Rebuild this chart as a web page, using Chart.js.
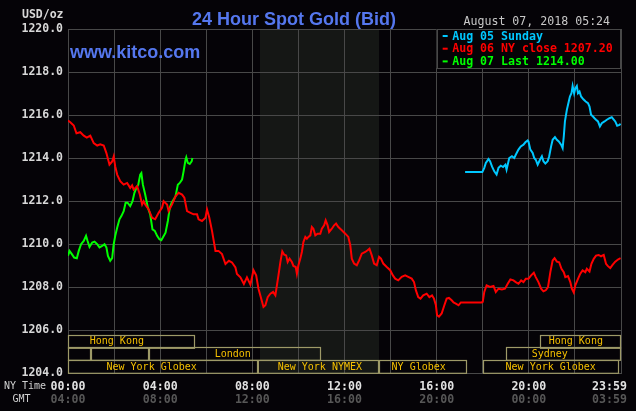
<!DOCTYPE html>
<html><head><meta charset="utf-8">
<script src="https://cdn.jsdelivr.net/npm/chart.js@4.4.0/dist/chart.umd.min.js"></script>
<style>html,body{margin:0;padding:0;background:#050307;}canvas{display:block}</style>
</head><body>
<canvas id="c" width="636" height="411"></canvas>
<script>
// ---- data (minutes after NY midnight, price USD/oz) ----
const redMinutes = [0,6,15,22,32,41,49,58,67,76,84,93,100,108,115,119,123,128,136,145,154,162,167,171,180,187,193,197,201,210,219,227,236,245,249,258,262,271,280,288,297,303,310,319,327,336,340,349,358,362,368,375,384,392,401,410,419,427,436,440,449,458,466,475,483,490,496,503,509,514,520,527,534,540,544,548,553,558,563,568,572,577,583,587,593,596,600,605,609,613,618,622,626,631,635,639,644,650,657,661,667,671,676,680,687,693,698,704,713,722,730,735,739,745,752,758,765,774,780,785,791,797,804,810,815,821,830,839,846,852,860,869,878,886,895,901,906,912,918,925,934,941,948,953,958,961,966,973,980,986,992,999,1004,1010,1017,1023,1034,1051,1077,1080,1084,1090,1099,1108,1114,1121,1130,1138,1145,1152,1160,1166,1173,1180,1186,1192,1199,1206,1213,1218,1225,1232,1238,1244,1250,1256,1262,1267,1273,1279,1285,1291,1295,1302,1308,1312,1317,1321,1328,1334,1340,1347,1351,1358,1363,1369,1375,1382,1388,1395,1401,1406,1412,1418,1425,1432,1439];
const redValues = [1215.74,1215.66,1215.51,1215.15,1215.20,1215.04,1214.95,1215.04,1214.69,1214.58,1214.64,1214.58,1214.23,1213.69,1213.84,1214.07,1213.61,1213.23,1212.92,1212.76,1212.84,1212.61,1212.73,1212.53,1212.69,1212.30,1211.84,1211.99,1211.84,1211.61,1211.22,1211.15,1211.45,1211.69,1211.99,1211.84,1211.53,1211.84,1212.22,1212.38,1212.30,1212.15,1211.53,1211.45,1211.38,1211.38,1211.15,1211.07,1211.22,1211.61,1211.22,1210.61,1209.68,1209.68,1209.53,1209.07,1209.22,1209.14,1208.91,1208.60,1208.45,1208.14,1208.45,1208.11,1208.78,1208.54,1207.92,1207.46,1207.07,1207.15,1207.53,1207.69,1207.77,1207.61,1208.08,1208.54,1209.16,1209.66,1209.50,1209.47,1209.16,1209.32,1209.16,1208.98,1208.93,1208.62,1209.01,1209.32,1209.63,1210.09,1210.33,1210.25,1210.33,1210.40,1210.79,1210.71,1210.40,1210.48,1210.48,1210.71,1210.87,1211.10,1210.87,1210.56,1210.71,1210.87,1210.95,1210.79,1210.64,1210.48,1210.33,1209.94,1209.32,1209.09,1209.01,1209.24,1209.55,1209.63,1209.71,1209.78,1209.47,1209.09,1209.01,1209.40,1209.32,1209.09,1208.93,1208.78,1208.54,1208.39,1208.31,1208.47,1208.54,1208.47,1208.39,1208.23,1207.84,1207.53,1207.46,1207.61,1207.69,1207.53,1207.61,1207.46,1207.15,1206.69,1206.62,1206.77,1207.15,1207.46,1207.49,1207.38,1207.28,1207.23,1207.15,1207.28,1207.28,1207.28,1207.28,1207.31,1207.77,1208.08,1208.00,1208.05,1207.77,1207.92,1207.89,1207.92,1208.15,1208.35,1208.31,1208.23,1208.15,1208.31,1208.23,1208.38,1208.38,1208.54,1208.66,1208.46,1208.23,1207.92,1207.80,1207.85,1208.00,1208.69,1209.23,1209.34,1209.18,1209.15,1208.85,1208.69,1208.46,1208.51,1208.23,1207.92,1207.74,1208.08,1208.38,1208.62,1208.77,1208.69,1208.85,1208.72,1209.08,1209.31,1209.46,1209.49,1209.43,1209.49,1209.08,1208.97,1208.88,1209.03,1209.18,1209.28,1209.34];

const greenMinutes = [0,4,10,16,23,28,34,41,47,51,56,63,69,76,82,89,95,100,104,110,115,119,123,128,134,139,145,150,155,162,168,173,178,183,188,191,195,201,208,214,220,226,232,238,243,247,254,260,265,270,275,280,286,291,297,301,306,308,312,317,322,324];
const greenValues = [1209.45,1209.68,1209.53,1209.37,1209.34,1209.68,1209.99,1210.14,1210.38,1210.14,1209.87,1210.07,1210.11,1209.99,1209.84,1209.91,1209.99,1209.84,1209.45,1209.22,1209.34,1209.99,1210.38,1210.76,1211.15,1211.30,1211.53,1211.92,1211.92,1211.76,1211.99,1212.38,1212.61,1212.76,1213.23,1213.30,1212.76,1212.30,1211.69,1211.38,1210.68,1210.61,1210.38,1210.22,1210.18,1210.30,1210.53,1211.07,1211.69,1211.92,1212.07,1212.22,1212.76,1212.84,1213.00,1213.38,1213.92,1214.03,1213.77,1213.72,1213.84,1214.00];

const cyanMinutes = [1034,1079,1084,1088,1095,1099,1104,1110,1116,1121,1127,1133,1139,1142,1149,1156,1162,1166,1173,1179,1186,1191,1197,1199,1204,1210,1214,1218,1223,1229,1234,1238,1243,1249,1253,1258,1262,1268,1273,1278,1284,1288,1291,1294,1299,1304,1307,1311,1314,1318,1321,1325,1328,1332,1336,1342,1348,1354,1358,1362,1367,1371,1375,1380,1385,1390,1397,1403,1410,1416,1420,1425,1430,1436,1439];
const cyanValues = [1213.35,1213.35,1213.54,1213.77,1213.95,1213.85,1213.61,1213.38,1213.23,1213.54,1213.64,1213.58,1213.69,1213.46,1214.00,1214.08,1214.00,1214.15,1214.39,1214.54,1214.62,1214.73,1214.82,1214.77,1214.39,1214.23,1214.00,1213.92,1213.69,1213.92,1214.08,1213.85,1213.74,1213.85,1214.08,1214.54,1214.85,1214.97,1214.85,1214.77,1214.62,1214.46,1215.00,1215.70,1216.24,1216.63,1216.86,1217.01,1217.35,1217.01,1217.24,1217.35,1217.01,1217.09,1216.86,1216.73,1216.63,1216.55,1216.39,1216.01,1215.93,1215.85,1215.78,1215.70,1215.47,1215.62,1215.70,1215.78,1215.85,1215.90,1215.81,1215.70,1215.50,1215.54,1215.59];

const seriesLabels = ['Aug 05 Sunday', 'Aug 06 NY close 1207.20', 'Aug 07 Last 1214.00'];

// ---- axes ----
const yTicks = [1204,1206,1208,1210,1212,1214,1216,1218,1220];
const gridHours = [0,2,4,6,8,10,12,14,16,18,20,22,24];
const labelHours = [0,4,8,12,16,20,24];
const nyTimeLabels = ['00:00','04:00','08:00','12:00','16:00','20:00','23:59'];
const gmtLabels = ['04:00','08:00','12:00','16:00','20:00','00:00','03:59'];

// ---- market sessions (hours) ----
const sessionNames = ['Hong Kong','','','London','New York Globex','New York NYMEX','NY Globex','New York Globex','Sydney','Hong Kong'];
const sessionRows  = [1,2,2,2,3,3,3,3,2,1];
const sessionStart = [0,0,1,3.5,0,8.25,13.5,18,19,20.5];
const sessionEnd   = [5.5,1,3.5,11,8.25,13.5,17.33,23.9,24,24];
const sessionLabelAt = [2.12,null,null,7.15,3.63,10.93,15.22,20.95,20.91,22.04];
const nymexHours = [8.33,13.5];

const COLORS = {bg:'#050307', grid:'#484848', shade:'#151715', cyan:'#00c8ff', red:'#ff0000', green:'#00ff00', title:'#5577ee', box:'#9e9a68', sess:'#f5c000'};
const MONO = 'DejaVu Sans Mono';

function pts(ms, vs){ return ms.map((m,i)=>({x:m/60, y:vs[i]})); }

const bgPlugin = {
  id:'bgPlugin',
  beforeDraw(chart){
    const {ctx, chartArea:a, scales:{x}} = chart;
    ctx.save();
    ctx.fillStyle = COLORS.bg; ctx.fillRect(0,0,chart.width,chart.height);
    const x0 = x.getPixelForValue(nymexHours[0]), x1 = x.getPixelForValue(nymexHours[1]);
    ctx.fillStyle = COLORS.shade; ctx.fillRect(x0, a.top, x1-x0, a.bottom-a.top);
    ctx.restore();
  }
};

const sessionPlugin = {
  id:'sessionPlugin',
  beforeDatasetsDraw(chart){
    const {ctx, chartArea:a, scales:{x}} = chart;
    const rh = 12.8;
    ctx.save();
    ctx.lineWidth = 1.2;
    ctx.strokeStyle = COLORS.box;
    ctx.font = '10px "' + MONO + '"';
    ctx.textAlign = 'center'; ctx.textBaseline = 'middle';
    for (let i=0;i<sessionNames.length;i++){
      const r = sessionRows[i];
      const top = a.bottom - (4-r)*rh;
      const x0 = Math.round(x.getPixelForValue(sessionStart[i]))+0.5;
      const x1 = Math.round(x.getPixelForValue(sessionEnd[i]))-0.5;
      ctx.strokeRect(x0, Math.round(top)+0.5, x1-x0, rh);
      if (sessionNames[i]) {
        ctx.fillStyle = COLORS.sess;
        ctx.fillText(sessionNames[i], x.getPixelForValue(sessionLabelAt[i]), top + rh/2 + 0.5);
      }
    }
    ctx.restore();
  }
};

const textPlugin = {
  id:'textPlugin',
  afterDraw(chart){
    const {ctx, chartArea:a, scales:{x}} = chart;
    const ds = chart.data.datasets;
    ctx.save();
    // legend box
    const lx = x.getPixelForValue(16);
    ctx.fillStyle = COLORS.bg;
    ctx.fillRect(lx, a.top, a.right-lx, 39);
    ctx.strokeStyle = COLORS.grid; ctx.lineWidth = 1;
    ctx.strokeRect(Math.round(lx)+0.5, Math.round(a.top)+0.5, Math.round(a.right-lx)-1, 39);
    const order = [2,0,1];
    ctx.font = 'bold 11.6px "' + MONO + '"';
    ctx.textAlign = 'left'; ctx.textBaseline = 'middle';
    order.forEach((di,k)=>{
      const yy = a.top + 7 + k*12.7;
      ctx.fillStyle = ds[di].borderColor;
      ctx.fillRect(lx+6, yy-1, 5, 2);
      ctx.fillText(ds[di].label, lx+15.5, yy+0.5);
    });
    // title
    ctx.fillStyle = COLORS.title;
    ctx.font = 'bold 18px "Liberation Sans", Arial, sans-serif';
    ctx.textBaseline = 'alphabetic';
    ctx.fillText('24 Hour Spot Gold (Bid)', 192, 25);
    ctx.fillText('www.kitco.com', 70, 58);
    // date
    ctx.fillStyle = '#c8c8c8';
    ctx.font = '11.6px "' + MONO + '"';
    ctx.fillText('August 07, 2018 05:24', 463.5, 25);
    // y unit
    ctx.font = 'bold 11.5px "' + MONO + '"';
    ctx.fillStyle = '#d8d8d8';
    ctx.textAlign = 'right'; ctx.textBaseline = 'middle';
    ctx.fillText('USD/oz', 63.5, 15);
    // x labels
    ctx.font = '10px "' + MONO + '"';
    ctx.textAlign = 'left';
    ctx.fillStyle = '#d0d0d0';
    ctx.fillText('NY Time', 4, 386.5);
    ctx.fillText('GMT', 12.5, 399.5);
    ctx.font = 'bold 11.6px "' + MONO + '"';
    ctx.textAlign = 'center';
    labelHours.forEach((h,i)=>{
      let px = x.getPixelForValue(h);
      const w = ctx.measureText(nyTimeLabels[i]).width;
      if (px + w/2 > 627) px = 627 - w/2;
      ctx.fillStyle = '#e2e2e2';
      ctx.fillText(nyTimeLabels[i], px, 386.5);
      ctx.fillStyle = '#575757';
      ctx.fillText(gmtLabels[i], px, 400);
    });
    ctx.restore();
  }
};

new Chart(document.getElementById('c'), {
  type:'line',
  data:{ datasets:[
    {label:seriesLabels[1], data:pts(redMinutes,redValues), borderColor:COLORS.red, backgroundColor:COLORS.red},
    {label:seriesLabels[2], data:pts(greenMinutes,greenValues), borderColor:COLORS.green, backgroundColor:COLORS.green},
    {label:seriesLabels[0], data:pts(cyanMinutes,cyanValues), borderColor:COLORS.cyan, backgroundColor:COLORS.cyan}
  ]},
  options:{
    responsive:false, animation:false, devicePixelRatio:1,
    layout:{padding:{top:29,right:15,bottom:38,left:0}},
    elements:{line:{borderWidth:2, tension:0, borderJoinStyle:'miter'}, point:{radius:0}},
    plugins:{legend:{display:false}, title:{display:false}, tooltip:{enabled:false}},
    scales:{
      x:{type:'linear', min:0, max:24,
        afterBuildTicks:s=>{ s.ticks = gridHours.map(v=>({value:v})); },
        afterFit:s=>{ s.height = 0; },
        ticks:{display:false},
        grid:{color:COLORS.grid, drawTicks:false, lineWidth:1},
        border:{color:COLORS.grid}},
      y:{type:'linear', min:1204, max:1220,
        afterBuildTicks:s=>{ s.ticks = yTicks.map(v=>({value:v})); },
        afterFit:s=>{ s.width = 68; },
        ticks:{color:'#d8d8d8', padding:5, font:{family:MONO, size:11.5, weight:'bold'}, callback:v=>Number(v).toFixed(1)},
        grid:{color:COLORS.grid, drawTicks:false, lineWidth:1},
        border:{color:COLORS.grid}}
    }
  },
  plugins:[bgPlugin, sessionPlugin, textPlugin]
});
</script>
</body></html>
